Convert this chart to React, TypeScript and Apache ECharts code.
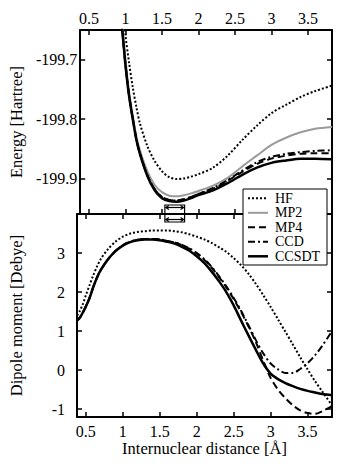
import React, { useEffect, useRef } from "react";
import * as echarts from "echarts";

// ---- axis ranges & ticks ----
const X_MIN = 0.38;
const X_MAX = 3.83;
const E_MIN = -199.9585;
const E_MAX = -199.651;
const D_MIN = -1.2;
const D_MAX = 4.0;
const xTicks = [0.5, 1, 1.5, 2, 2.5, 3, 3.5];
const energyTicks = [-199.9, -199.8, -199.7];
const dipoleTicks = [-1, 0, 1, 2, 3];
const eqRange = [1.54, 1.81];

const methods = ["HF", "MP2", "MP4", "CCD", "CCSDT"];

// ---- energy curves (Hartree) ----
const rEnergy = [0.93, 0.96, 1.0, 1.05, 1.1, 1.15, 1.2, 1.3, 1.4, 1.5, 1.6, 1.7, 1.8, 1.9, 2.0, 2.2, 2.4, 2.6, 2.8, 3.0, 3.2, 3.4, 3.6, 3.83];
const hfEnergy = [-199.55, -199.6, -199.66, -199.706, -199.747, -199.78, -199.808, -199.845, -199.87, -199.887, -199.897, -199.9, -199.899, -199.896, -199.892, -199.881, -199.861, -199.835, -199.811, -199.79, -199.776, -199.763, -199.753, -199.744];
const mp2Energy = [-199.6, -199.645, -199.7, -199.755, -199.794, -199.829, -199.853, -199.887, -199.91, -199.922, -199.928, -199.929, -199.927, -199.924, -199.92, -199.911, -199.898, -199.879, -199.861, -199.843, -199.831, -199.822, -199.816, -199.813];
const mp4Energy = [-199.62, -199.656, -199.709, -199.761, -199.799, -199.834, -199.858, -199.894, -199.917, -199.93, -199.935, -199.936, -199.934, -199.93, -199.925, -199.916, -199.903, -199.888, -199.875, -199.866, -199.861, -199.858, -199.857, -199.857];
const ccdEnergy = [-199.62, -199.656, -199.709, -199.761, -199.799, -199.834, -199.858, -199.894, -199.917, -199.93, -199.935, -199.936, -199.934, -199.93, -199.925, -199.915, -199.902, -199.886, -199.872, -199.863, -199.858, -199.855, -199.853, -199.852];
const ccsdtEnergy = [-199.62, -199.657, -199.71, -199.762, -199.8, -199.835, -199.859, -199.895, -199.919, -199.932, -199.937, -199.938, -199.936, -199.932, -199.927, -199.919, -199.907, -199.893, -199.881, -199.873, -199.869, -199.866, -199.866, -199.867];

// ---- dipole curves (Debye) ----
const rDipole = [0.38, 0.42, 0.46, 0.5, 0.55, 0.6, 0.65, 0.7, 0.8, 0.9, 1.0, 1.1, 1.2, 1.3, 1.4, 1.5, 1.6, 1.7, 1.8, 1.9, 2.0, 2.1, 2.2, 2.3, 2.4, 2.5, 2.6, 2.7, 2.8, 2.9, 3.0, 3.1, 3.2, 3.3, 3.4, 3.5, 3.6, 3.7, 3.83];
const hfDipole = [1.4, 1.52, 1.7, 1.92, 2.18, 2.43, 2.65, 2.84, 3.1, 3.29, 3.42, 3.5, 3.54, 3.56, 3.58, 3.58, 3.58, 3.56, 3.53, 3.48, 3.42, 3.35, 3.26, 3.15, 3.03, 2.87, 2.69, 2.47, 2.21, 1.92, 1.62, 1.3, 0.98, 0.66, 0.33, 0.02, -0.28, -0.55, -0.9];
const mp4Dipole = [1.27, 1.35, 1.48, 1.63, 1.85, 2.13, 2.37, 2.56, 2.84, 3.05, 3.2, 3.29, 3.34, 3.36, 3.36, 3.35, 3.31, 3.27, 3.2, 3.11, 2.99, 2.83, 2.63, 2.39, 2.12, 1.82, 1.49, 1.12, 0.72, 0.24, -0.2, -0.5, -0.72, -0.9, -1.03, -1.1, -1.12, -1.05, -0.92];
const ccdDipole = [1.27, 1.35, 1.48, 1.63, 1.85, 2.13, 2.37, 2.56, 2.84, 3.05, 3.2, 3.29, 3.34, 3.36, 3.36, 3.35, 3.31, 3.27, 3.21, 3.12, 3.0, 2.85, 2.65, 2.41, 2.15, 1.85, 1.52, 1.15, 0.77, 0.43, 0.17, 0.02, -0.07, -0.07, 0.03, 0.18, 0.38, 0.63, 1.0];
const ccsdtDipole = [1.27, 1.35, 1.48, 1.63, 1.85, 2.13, 2.37, 2.56, 2.84, 3.05, 3.19, 3.28, 3.33, 3.35, 3.35, 3.33, 3.29, 3.24, 3.16, 3.06, 2.92, 2.75, 2.53, 2.28, 2.0, 1.66, 1.27, 0.89, 0.52, 0.17, -0.09, -0.23, -0.33, -0.41, -0.48, -0.53, -0.57, -0.61, -0.64];

const FONT = "Liberation Serif";

const styles: Record<string, any> = {
  HF: { color: "#000", width: 2, type: [2, 2] },
  MP2: { color: "#9a9a9a", width: 2, type: "solid" },
  MP4: { color: "#000", width: 2, type: [7, 4] },
  CCD: { color: "#000", width: 2, type: [7, 3, 2, 3] },
  CCSDT: { color: "#000", width: 2.5, type: "solid" },
};

function pairs(xs: number[], ys: number[]) {
  return xs.map((x, i) => [x, ys[i]]);
}

export default function App() {
  const ref = useRef<HTMLDivElement>(null);
  useEffect(() => {
    const chart = echarts.init(ref.current!, null, { renderer: "svg" });
    const axisLine = { show: true, onZero: false, lineStyle: { color: "#000", width: 2 } };
    const tickStyle = { color: "#000", width: 1.5 };
    const labelStyle = { color: "#000", fontFamily: FONT, fontSize: 16, showMinLabel: false, showMaxLabel: false };
    // keep only the tick labels listed in the named arrays
    const pick = (list: number[]) => (v: number) => {
      const hit = list.find((t) => Math.abs(t - v) < 1e-6);
      return hit === undefined ? "" : String(hit);
    };
    const xAx = (grid: number, pos: string, labels: boolean, extra: any = {}) => ({
      type: "value",
      gridIndex: grid,
      position: pos,
      min: X_MIN,
      max: X_MAX,
      splitNumber: 7,
      axisLine,
      axisTick: { show: true, inside: true, length: 5, lineStyle: tickStyle },
      axisLabel: labels
        ? { show: true, ...labelStyle, formatter: pick(xTicks), margin: pos === "top" ? 4 : 6 }
        : { show: false },
      splitLine: { show: false },
      ...extra,
    });
    const yAx = (grid: number, pos: string, labels: boolean, min: number, max: number, ticks: number[], split: number, margin: number, extra: any = {}) => ({
      type: "value",
      gridIndex: grid,
      position: pos,
      min,
      max,
      splitNumber: split,
      axisLine,
      axisTick: { show: true, inside: true, length: 5, lineStyle: tickStyle },
      axisLabel: labels ? { show: true, ...labelStyle, formatter: pick(ticks), margin } : { show: false },
      splitLine: { show: false },
      ...extra,
    });
    const nameStyle = { color: "#000", fontFamily: FONT, fontSize: 16.5 };

    const energySets = [hfEnergy, mp2Energy, mp4Energy, ccdEnergy, ccsdtEnergy];
    const dipoleSets: Record<string, number[]> = { HF: hfDipole, MP4: mp4Dipole, CCD: ccdDipole, CCSDT: ccsdtDipole };

    const series: any[] = [];
    methods.forEach((m, i) => {
      series.push({
        type: "line",
        name: m,
        xAxisIndex: 0,
        yAxisIndex: 0,
        data: pairs(rEnergy, energySets[i]),
        smooth: 0.3,
        symbol: "none",
        clip: true,
        color: styles[m].color,
        lineStyle: styles[m],
        z: m === "CCSDT" ? 5 : 3,
      });
    });
    methods.forEach((m) => {
      if (!dipoleSets[m]) return;
      series.push({
        type: "line",
        name: m,
        xAxisIndex: 3,
        yAxisIndex: 2,
        data: pairs(rDipole, dipoleSets[m]),
        smooth: 0.3,
        symbol: "none",
        clip: true,
        color: styles[m].color,
        lineStyle: styles[m],
        z: m === "CCSDT" ? 5 : 3,
      });
    });

    chart.setOption({
      animation: false,
      backgroundColor: "#fff",
      textStyle: { fontFamily: FONT },
      grid: [
        { left: 74, top: 30, width: 258, height: 184 },
        { left: 74, top: 214, width: 258, height: 203 },
      ],
      xAxis: [
        xAx(0, "top", true),
        xAx(0, "bottom", false),
        xAx(1, "top", false),
        xAx(1, "bottom", true, {
          name: "Internuclear distance [Å]",
          nameLocation: "middle",
          nameGap: 22,
          nameTextStyle: nameStyle,
        }),
      ],
      yAxis: [
        yAx(0, "left", true, E_MIN, E_MAX, energyTicks, 3, 3, {
          name: "Energy [Hartree]",
          nameLocation: "middle",
          nameGap: 52,
          nameTextStyle: nameStyle,
        }),
        yAx(0, "right", false, E_MIN, E_MAX, energyTicks, 3, 3),
        yAx(1, "left", true, D_MIN, D_MAX, dipoleTicks, 5, 12, {
          name: "Dipole moment [Debye]",
          nameLocation: "middle",
          nameGap: 52,
          nameTextStyle: nameStyle,
        }),
        yAx(1, "right", false, D_MIN, D_MAX, dipoleTicks, 5, 12),
      ],
      series,
    });

    // equilibrium-range marker straddling the panel separator
    const x1 = chart.convertToPixel({ xAxisIndex: 1 }, eqRange[0]) as number;
    const x2 = chart.convertToPixel({ xAxisIndex: 1 }, eqRange[1]) as number;
    const sepY = chart.convertToPixel({ yAxisIndex: 0 }, E_MIN) as number;
    const stroke = { stroke: "#000", lineWidth: 1.2, fill: "none" };
    const arrow = (yy: number) => [
      { type: "line", shape: { x1: x1 + 1, y1: yy, x2: x2 - 1, y2: yy }, style: stroke },
      { type: "polyline", shape: { points: [[x1 + 4, yy - 2], [x1 + 1, yy], [x1 + 4, yy + 2]] }, style: stroke },
      { type: "polyline", shape: { points: [[x2 - 4, yy - 2], [x2 - 1, yy], [x2 - 4, yy + 2]] }, style: stroke },
    ];

    // legend box (drawn so the line samples carry each series' dash pattern)
    const LX = 243, LY = 189, LW = 84, LH = 76, ROW = 14.5;
    const legendItems: any[] = [
      { type: "rect", shape: { x: LX, y: LY, width: LW, height: LH }, style: { fill: "#fff", stroke: "#000", lineWidth: 1 } },
    ];
    methods.forEach((m, i) => {
      const cy = LY + 9.3 + i * ROW;
      const s = styles[m];
      legendItems.push({
        type: "line",
        shape: { x1: LX + 5, y1: cy, x2: LX + 25, y2: cy },
        style: { stroke: s.color, lineWidth: s.width, lineDash: Array.isArray(s.type) ? s.type : null },
      });
      legendItems.push({
        type: "text",
        x: LX + 32,
        y: cy,
        style: { text: m, fill: "#000", font: `14px ${FONT}`, fontFamily: FONT, fontSize: 14, verticalAlign: "middle", align: "left" },
      });
    });

    chart.setOption({
      graphic: [
        { type: "rect", z: 10, shape: { x: x1, y: sepY - 9, width: x2 - x1, height: 17 }, style: stroke },
        ...arrow(sepY - 6.5).map((g) => ({ ...g, z: 10 })),
        ...arrow(sepY + 5.5).map((g) => ({ ...g, z: 10 })),
        ...legendItems.map((g) => ({ ...g, z: 20 })),
      ],
    });

    return () => chart.dispose();
  }, []);
  return <div ref={ref} style={{ position: "fixed", left: 0, top: 0, width: 349, height: 466, background: "#fff" }} />;
}
